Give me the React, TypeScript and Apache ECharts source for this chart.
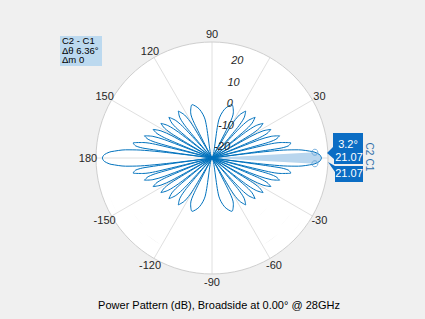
import React, { useEffect, useRef } from "react";
import * as echarts from "echarts";

// First-quadrant reading of the power pattern (dB), mirrored to the other quadrants
const quadAngles = [
  0, 1.8, 3.2, 3.6, 5.4, 6.3, 7.2,
  8.1, 9.0, 10.8, 12.6, 13.6, 14.5,
  15.4, 16.3, 18.2, 20.1, 21.1, 22.0,
  23.0, 24.0, 25.9, 28.0, 29.0, 30.0,
  31.0, 32.1, 34.2, 36.4, 37.6, 38.7,
  39.8, 41.0, 43.4, 46.0, 47.3, 48.6,
  50.0, 51.4, 54.3, 57.5, 59.3, 61.0,
  63.0, 65.0, 69.6, 75.6, 79.9, 90,
];
const quadPower = [
  24.08, 23.2, 21.07, 20.2, 13.7, 7.0, -26,
  4.9, 9.3, 10.7, 6.4, 0.5, -26,
  -0.5, 4.4, 6.5, 2.8, -2.9, -26,
  -3.5, 1.5, 3.9, 0.4, -5.1, -26,
  -5.5, -0.4, 2.2, -1.1, -6.6, -26,
  -6.9, -1.7, 1.1, -2.2, -7.6, -26,
  -7.8, -2.5, 0.4, -2.7, -8.1, -26,
  -8.2, -2.9, 0.0, -3.0, -8.3, -26,
];

// cursor span between C1 and C2
const spanAngles = [-3.2, -1.8, 0, 1.8, 3.2];
const spanPower = [21.07, 23.2, 24.08, 23.2, 21.07];
const cursorAngles = [3.2, -3.2];
const cursorPower = [21.07, 21.07];

// angle tick labels shown (0 and 60 are not drawn in the original)
const angleLabels = [30, 90, 120, 150, 180, -150, -120, -90, -60, -30];
const magTicks = [-20, -10, 0, 10, 20];
const magMin = -26;
const magMax = 27;

const FONT = "'Liberation Sans', Arial, Helvetica, sans-serif";
const BLUE = "#0072BD";
const CX = 212;
const CY = 158;
const R = 116;
const LABEL_R = 124;

export default function App() {
  const ref = useRef<HTMLDivElement>(null);
  useEffect(() => {
    if (!ref.current) return;
    const chart = echarts.init(ref.current, undefined, { renderer: "svg" });
    const n = quadAngles.length;
    const pts: number[][] = [];
    for (let i = 0; i < n; i++) pts.push([quadPower[i], quadAngles[i]]);
    for (let i = n - 2; i >= 0; i--) pts.push([quadPower[i], 180 - quadAngles[i]]);
    for (let i = 1; i < n; i++) pts.push([quadPower[i], 180 + quadAngles[i]]);
    for (let i = n - 2; i >= 0; i--) pts.push([quadPower[i], 360 - quadAngles[i]]);

    const norm = (a: number) => (a < 0 ? a + 360 : a);
    // split line colors: ticks every 2 dB from -26, show only the multiples of 10
    const ringColors = ["transparent", "transparent", "transparent", "#dcdcdc", "transparent"];

    const angleLabelTexts = angleLabels.map((a) => {
      const rad = (a * Math.PI) / 180;
      return {
        type: "text",
        x: CX + LABEL_R * Math.cos(rad),
        y: CY - LABEL_R * Math.sin(rad),
        z: 5,
        style: {
          text: String(a),
          fontSize: 11,
          fill: "#262626",
          fontFamily: FONT,
          align: "center",
          verticalAlign: "middle",
        },
      };
    });

    const option: any = {
      animation: false,
      backgroundColor: "#f0f0f0",
      textStyle: { fontFamily: FONT },
      polar: [
        { center: [CX, CY], radius: R },
        { center: [CX, CY], radius: R },
      ],
      angleAxis: [
        {
          polarIndex: 0,
          type: "value",
          min: 0,
          max: 360,
          interval: 30,
          startAngle: 0,
          clockwise: false,
          axisLine: { show: true, lineStyle: { color: "#cfcfcf", width: 1 } },
          axisTick: { show: false },
          splitLine: { show: true, lineStyle: { color: "#e0e0e0", width: 1 } },
          axisLabel: { show: false },
        },
        {
          polarIndex: 1,
          type: "value",
          min: 0,
          max: 360,
          startAngle: 80,
          clockwise: false,
          show: false,
        },
      ],
      radiusAxis: [
        {
          polarIndex: 0,
          type: "value",
          min: magMin,
          max: magMax,
          interval: 2,
          axisLine: { show: false },
          axisTick: { show: false },
          axisLabel: { show: false },
          splitLine: { show: true, lineStyle: { color: ringColors, width: 1 } },
          splitArea: { show: true, areaStyle: { color: ["#ffffff"] } },
        },
        {
          polarIndex: 1,
          type: "value",
          min: magMin,
          max: magMax,
          interval: 2,
          axisLine: { show: false },
          axisTick: { show: false },
          splitLine: { show: false },
          z: 10,
          axisLabel: {
            margin: -8,
            align: "center",
            verticalAlign: "middle",
            color: "#262626",
            fontSize: 11,
            fontStyle: "italic",
            fontFamily: FONT,
            formatter: (v: number) => (magTicks.indexOf(v) >= 0 ? String(v) : ""),
          },
        },
      ],
      series: [
        {
          type: "custom",
          coordinateSystem: "polar",
          polarIndex: 0,
          data: [[0, 0]],
          z: 1,
          silent: true,
          renderItem: (params: any, api: any) => {
            const c = api.coord([magMin, 0]);
            const poly = [c];
            spanAngles.forEach((a, i) => poly.push(api.coord([spanPower[i], norm(a)])));
            return {
              type: "polygon",
              shape: { points: poly },
              style: { fill: "#b9d6ee", stroke: "none" },
            };
          },
        },
        {
          type: "line",
          coordinateSystem: "polar",
          polarIndex: 0,
          data: pts,
          showSymbol: false,
          smooth: 0.3,
          z: 3,
          lineStyle: { color: BLUE, width: 1 },
        },
        {
          type: "scatter",
          coordinateSystem: "polar",
          polarIndex: 0,
          data: cursorAngles.map((a, i) => [cursorPower[i], norm(a)]),
          symbol: "circle",
          symbolSize: 6,
          z: 4,
          itemStyle: { color: "rgba(255,255,255,0)", borderColor: "#5b9fd6", borderWidth: 1 },
        },
      ],
      graphic: [
        ...angleLabelTexts,
        {
          type: "rect",
          shape: { x: 60, y: 36, width: 42, height: 30 },
          style: { fill: "#bcd9ef" },
        },
        { type: "text", x: 62, y: 40.5, style: { text: "C2 - C1", fontSize: 9.5, fill: "#000", fontFamily: FONT, verticalAlign: "middle" } },
        { type: "text", x: 62, y: 50, style: { text: "Δθ 6.36°", fontSize: 9.5, fill: "#000", fontFamily: FONT, verticalAlign: "middle" } },
        { type: "text", x: 62, y: 59.5, style: { text: "Δm 0", fontSize: 9.5, fill: "#000", fontFamily: FONT, verticalAlign: "middle" } },
        {
          type: "polygon",
          z: 20,
          shape: { points: [[333, 133], [363, 133], [363, 164], [334, 164], [334, 159], [327, 153], [333, 147]] },
          style: { fill: "#0b6dc4" },
        },
        {
          type: "polygon",
          z: 20,
          shape: { points: [[335, 166], [363, 166], [363, 182], [335, 182], [335, 172], [328, 162]] },
          style: { fill: "#0b6dc4" },
        },
        { type: "text", z: 21, x: 348, y: 144, style: { text: "3.2°", fontSize: 11, fill: "#fff", fontFamily: FONT, align: "center", verticalAlign: "middle" } },
        { type: "text", z: 21, x: 349, y: 157, style: { text: "21.07", fontSize: 11, fill: "#fff", fontFamily: FONT, align: "center", verticalAlign: "middle" } },
        { type: "text", z: 21, x: 349, y: 173, style: { text: "21.07", fontSize: 11, fill: "#fff", fontFamily: FONT, align: "center", verticalAlign: "middle" } },
        { type: "text", z: 21, x: 369, y: 149, rotation: -Math.PI / 2, style: { text: "C2", fontSize: 10, fill: "#2f6ea8", fontFamily: FONT, align: "center", verticalAlign: "middle" } },
        { type: "text", z: 21, x: 369, y: 165, rotation: -Math.PI / 2, style: { text: "C1", fontSize: 10, fill: "#2f6ea8", fontFamily: FONT, align: "center", verticalAlign: "middle" } },
        {
          type: "text",
          x: 219,
          y: 305,
          style: {
            text: "Power Pattern (dB), Broadside at 0.00° @ 28GHz",
            fontSize: 11,
            fill: "#000",
            fontFamily: FONT,
            align: "center",
            verticalAlign: "middle",
          },
        },
      ],
    };
    chart.setOption(option);
    return () => chart.dispose();
  }, []);
  return (
    <div
      ref={ref}
      style={{ position: "fixed", left: 0, top: 0, width: 425, height: 319 }}
    />
  );
}
